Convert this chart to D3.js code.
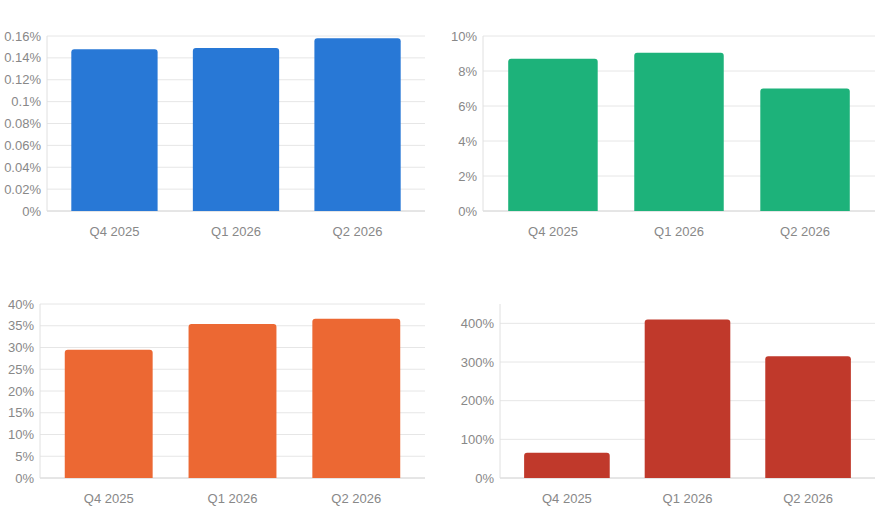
<!DOCTYPE html>
<html><head><meta charset="utf-8">
<script src="https://cdn.jsdelivr.net/npm/d3@7"></script>
<style>body{margin:0;background:#fff}text{font-family:"Liberation Sans",Arial,sans-serif}</style>
</head><body><svg id="c" width="875" height="512"></svg>
<script>
const quarters = ["Q4 2025", "Q1 2026", "Q2 2026"];
const blueVals = [0.148, 0.149, 0.158];
const blueTicks = [0, 0.02, 0.04, 0.06, 0.08, 0.1, 0.12, 0.14, 0.16];
const greenVals = [8.7, 9.05, 7.0];
const greenTicks = [0, 2, 4, 6, 8, 10];
const orangeVals = [29.5, 35.4, 36.6];
const orangeTicks = [0, 5, 10, 15, 20, 25, 30, 35, 40];
const redVals = [65, 410, 315];
const redTicks = [0, 100, 200, 300, 400];

const svg = d3.select("#c");

function panel(vals, ticks, max, color, x0, x1, y0, y1) {
  const g = svg.append("g");
  const x = d3.scaleBand().domain(quarters).range([x0, x1]).paddingInner(0.29).paddingOuter(0.2);
  const y = d3.scaleLinear().domain([0, max]).range([y1, y0]);
  g.selectAll(".grid").data(ticks).join("line")
    .attr("x1", x0).attr("x2", x1).attr("y1", d => y(d)).attr("y2", d => y(d))
    .attr("stroke", d => d === 0 ? "#ccc" : "#e6e6e6");
  g.append("line").attr("x1", x0).attr("x2", x0).attr("y1", y0).attr("y2", y1).attr("stroke", "#e0e0e0");
  g.selectAll(".yl").data(ticks).join("text")
    .attr("x", x0 - 6).attr("y", d => y(d)).attr("dy", "0.35em").attr("text-anchor", "end")
    .attr("font-size", 13).attr("fill", "#888").text(d => d + "%");
  g.selectAll(".bar").data(vals).join("path")
    .attr("fill", color)
    .attr("d", (d, i) => {
      const bx = x(quarters[i]), w = x.bandwidth(), top = y(d), bot = y(0), r = 3;
      return `M${bx},${bot}V${top + r}Q${bx},${top} ${bx + r},${top}H${bx + w - r}Q${bx + w},${top} ${bx + w},${top + r}V${bot}Z`;
    });
  g.selectAll(".xl").data(quarters).join("text")
    .attr("x", d => x(d) + x.bandwidth() / 2).attr("y", y1 + 25).attr("text-anchor", "middle")
    .attr("font-size", 13).attr("fill", "#888").text(d => d);
}

panel(blueVals, blueTicks, 0.16, "#2878d6", 47, 425, 36, 211);
panel(greenVals, greenTicks, 10, "#1db27a", 483, 875, 36, 211);
panel(orangeVals, orangeTicks, 40, "#ec6833", 40, 425, 304, 478);
panel(redVals, redTicks, 450, "#c0392b", 500, 875, 304, 478);
</script></body></html>
